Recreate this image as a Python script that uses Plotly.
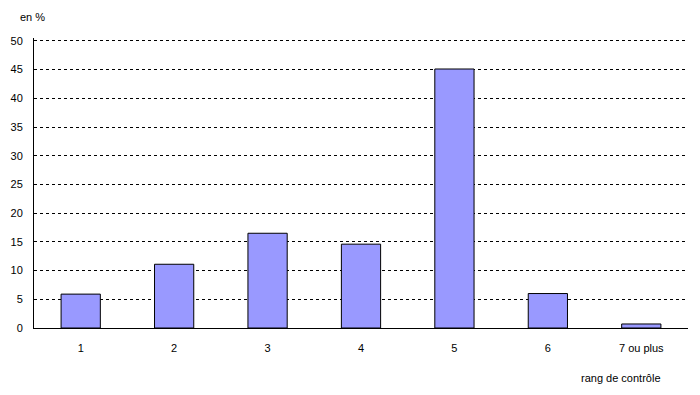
import plotly.graph_objects as go

categories = ["1", "2", "3", "4", "5", "6", "7 ou plus"]
values = [5.9, 11.1, 16.5, 14.6, 45.1, 6.0, 0.7]
y_ticks = [0, 5, 10, 15, 20, 25, 30, 35, 40, 45, 50]

fig = go.Figure()
fig.add_trace(go.Bar(
    x=categories, y=values,
    marker=dict(color="#9999FF", line=dict(color="black", width=1)),
    width=0.42,
))

fig.update_layout(
    width=700, height=395,
    margin=dict(l=34, r=12, t=38, b=67),
    paper_bgcolor="white", plot_bgcolor="white",
    font=dict(family="Liberation Sans, Arial, sans-serif", size=11, color="black"),
    showlegend=False,
    xaxis=dict(
        type="category", showgrid=False, showline=True, linecolor="black", linewidth=1,
        ticks="", tickfont=dict(size=11), ticklabelstandoff=10,
    ),
    yaxis=dict(
        range=[0, 50.5], tickvals=y_ticks, showgrid=True, gridcolor="black", griddash="3px,3px",
        gridwidth=1, showline=True, linecolor="black", linewidth=1, ticks="", zeroline=False,
        ticklabelstandoff=8,
    ),
    annotations=[
        dict(text="en %", xref="paper", yref="paper", x=-0.025, y=1.0, yshift=21,
             xanchor="left", yanchor="middle", showarrow=False, font=dict(size=11)),
        dict(text="rang de contrôle", xref="paper", yref="paper", x=0.897, y=0, yshift=-50,
             xanchor="center", yanchor="middle", showarrow=False, font=dict(size=11)),
    ],
)

fig.write_html("out.html")
